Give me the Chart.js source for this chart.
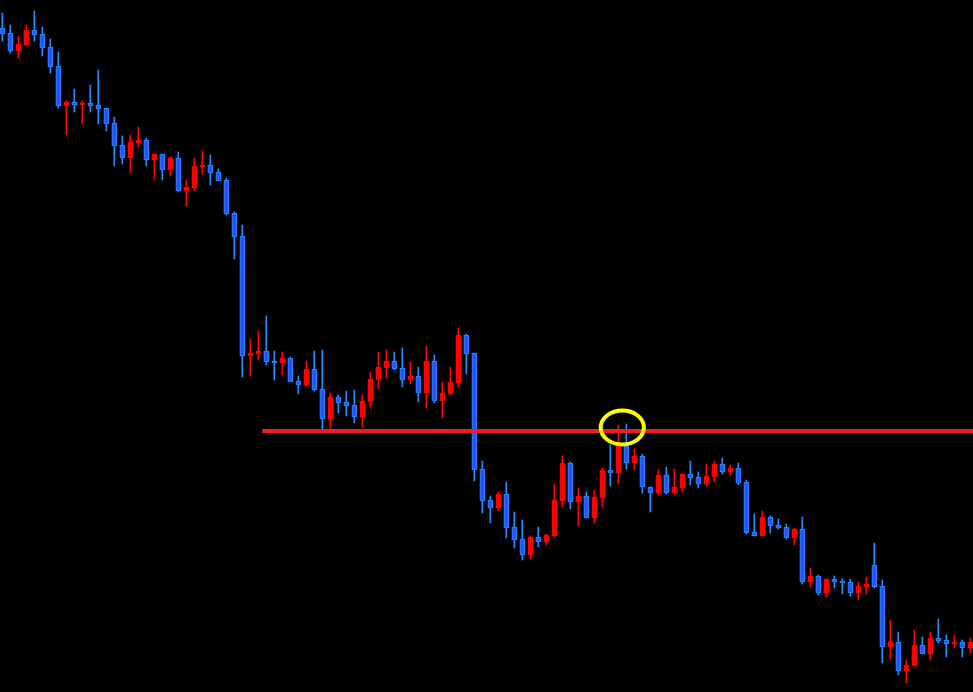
<!DOCTYPE html>
<html>
<head>
<meta charset="utf-8">
<script src="https://cdn.jsdelivr.net/npm/chart.js@4"></script>
<style>
  html, body { margin: 0; padding: 0; background: #000; }
  #wrap { width: 973px; height: 692px; }
</style>
</head>
<body>
<div id="wrap"><canvas id="myChart" width="973" height="692"></canvas></div>
<script>
// candle values (price points), one entry per bar
const opens = [672,667,649,655,670,666,653,634,594,598,595,597,595,592,577,555,542,557,560,540,
  546,530,542,509,512,533,535,528,520,487,464,344,346,349,339,337,342,319,315,331,
  311,281,303,298,295,283,298,320,332,339,332,320,324,307,339,299,306,317,365,347,
  231,200,192,206,173,161,145,163,158,164,199,237,198,204,182,202,230,227,254,237,
  244,213,207,225,207,212,226,223,216,223,236,228,232,218,168,164,183,175,173,162,
  171,118,124,107,121,119,118,107,113,135,114,53,58,29,34,55,46,62,60,56,
  58,52];
const highs = [687,675,664,675,689,673,661,648,599,611,599,615,630,592,583,564,565,573,562,546,
  546,543,548,520,542,549,545,531,522,488,475,361,369,384,349,348,343,324,339,349,
  350,307,305,309,310,305,328,348,350,348,352,338,333,354,345,318,333,372,366,347,
  239,204,208,218,188,180,164,173,166,216,244,238,212,208,210,232,255,275,276,251,
  246,213,230,233,231,226,239,228,236,239,242,235,237,220,186,189,184,181,176,172,
  183,132,125,121,124,121,121,118,123,157,120,80,68,40,70,63,68,81,65,65,
  60,62];
const lows = [659,647,642,655,659,644,627,592,565,588,576,588,576,569,534,536,527,553,534,521,
  520,524,508,494,509,526,515,519,485,441,323,324,340,335,320,325,318,306,314,309,
  270,270,287,284,277,273,292,311,322,330,313,316,298,292,297,282,305,313,326,219,
  187,177,189,162,152,140,141,153,155,163,193,191,174,182,177,193,214,216,231,230,
  207,188,205,206,206,208,215,212,214,218,226,224,215,166,164,164,167,171,161,155,
  116,113,105,103,112,106,104,100,106,112,37,41,25,17,34,46,40,57,43,52,
  43,47];
const closes = [666,649,656,670,665,652,633,594,598,595,597,594,591,576,554,542,558,560,540,546,
  530,542,509,513,534,535,527,519,486,463,344,347,349,338,337,342,318,315,331,310,
  281,303,297,294,283,299,321,333,339,331,320,324,307,339,299,307,318,365,346,230,
  199,192,206,172,160,145,163,158,165,200,237,198,204,182,203,230,227,254,237,244,
  213,207,225,207,213,226,222,216,224,236,228,232,217,167,164,183,174,172,162,171,
  118,124,107,121,118,117,107,114,116,113,53,58,29,35,55,46,62,59,56,58,
  52,58];

// marked level and the circled retest
const levelValue = 269;
const levelStart = 32.5;
const ringIndex = 77.5;
const ringValue = 272.5;

const upColor = '#ff0000';
const downBorder = '#1e90ff';
const downFill = '#3050ff';

var wickData = [];
var bodyData = [];
var wickColors = [];
var bodyFill = [];
var bodyBorder = [];
for (var i = 0; i < opens.length; i++) {
    var up = closes[i] > opens[i];
    wickData.push({ x: i, y: [lows[i], highs[i]] });
    bodyData.push({ x: i, y: [opens[i], closes[i]] });
    wickColors.push(up ? upColor : downBorder);
    bodyFill.push(up ? upColor : downFill);
    bodyBorder.push(up ? upColor : downBorder);
}

const markers = {
    id: 'markers',
    afterDatasetsDraw(chart) {
        const ctx = chart.ctx;
        const xs = chart.scales.x;
        const ys = chart.scales.y;
        ctx.save();
        // horizontal level
        ctx.strokeStyle = '#f01e23';
        ctx.lineWidth = 4;
        ctx.beginPath();
        ctx.moveTo(xs.getPixelForValue(levelStart), ys.getPixelForValue(levelValue));
        ctx.lineTo(chart.width, ys.getPixelForValue(levelValue));
        ctx.stroke();
        // yellow ring
        const cx = xs.getPixelForValue(ringIndex);
        const cy = ys.getPixelForValue(ringValue);
        const rx = xs.getPixelForValue(ringIndex + 2.7) - cx;
        const ry = ys.getPixelForValue(ringValue - 17) - cy;
        ctx.strokeStyle = '#ffff00';
        ctx.lineWidth = 4;
        ctx.beginPath();
        ctx.ellipse(cx, cy, rx, ry, 0, 0, Math.PI * 2);
        ctx.stroke();
        ctx.restore();
    }
};

const config = {
    type: 'bar',
    data: {
        datasets: [{
            label: 'wick',
            data: wickData,
            backgroundColor: wickColors,
            borderWidth: 0,
            barThickness: 1,
            grouped: false,
            order: 2
        }, {
            label: 'body',
            data: bodyData,
            backgroundColor: bodyFill,
            borderColor: bodyBorder,
            borderWidth: 1,
            borderSkipped: false,
            barThickness: 5,
            grouped: false,
            order: 1
        }]
    },
    options: {
        responsive: false,
        animation: false,
        layout: { padding: 0 },
        scales: {
            x: { type: 'linear', offset: false, grid: { offset: false }, min: -0.2875, max: 121.3375, display: false },
            y: { min: 8, max: 700, display: false }
        },
        plugins: {
            legend: { display: false },
            tooltip: { enabled: false }
        }
    },
    plugins: [markers]
};

var myChart = new Chart(document.getElementById('myChart'), config);
</script>
</body>
</html>
